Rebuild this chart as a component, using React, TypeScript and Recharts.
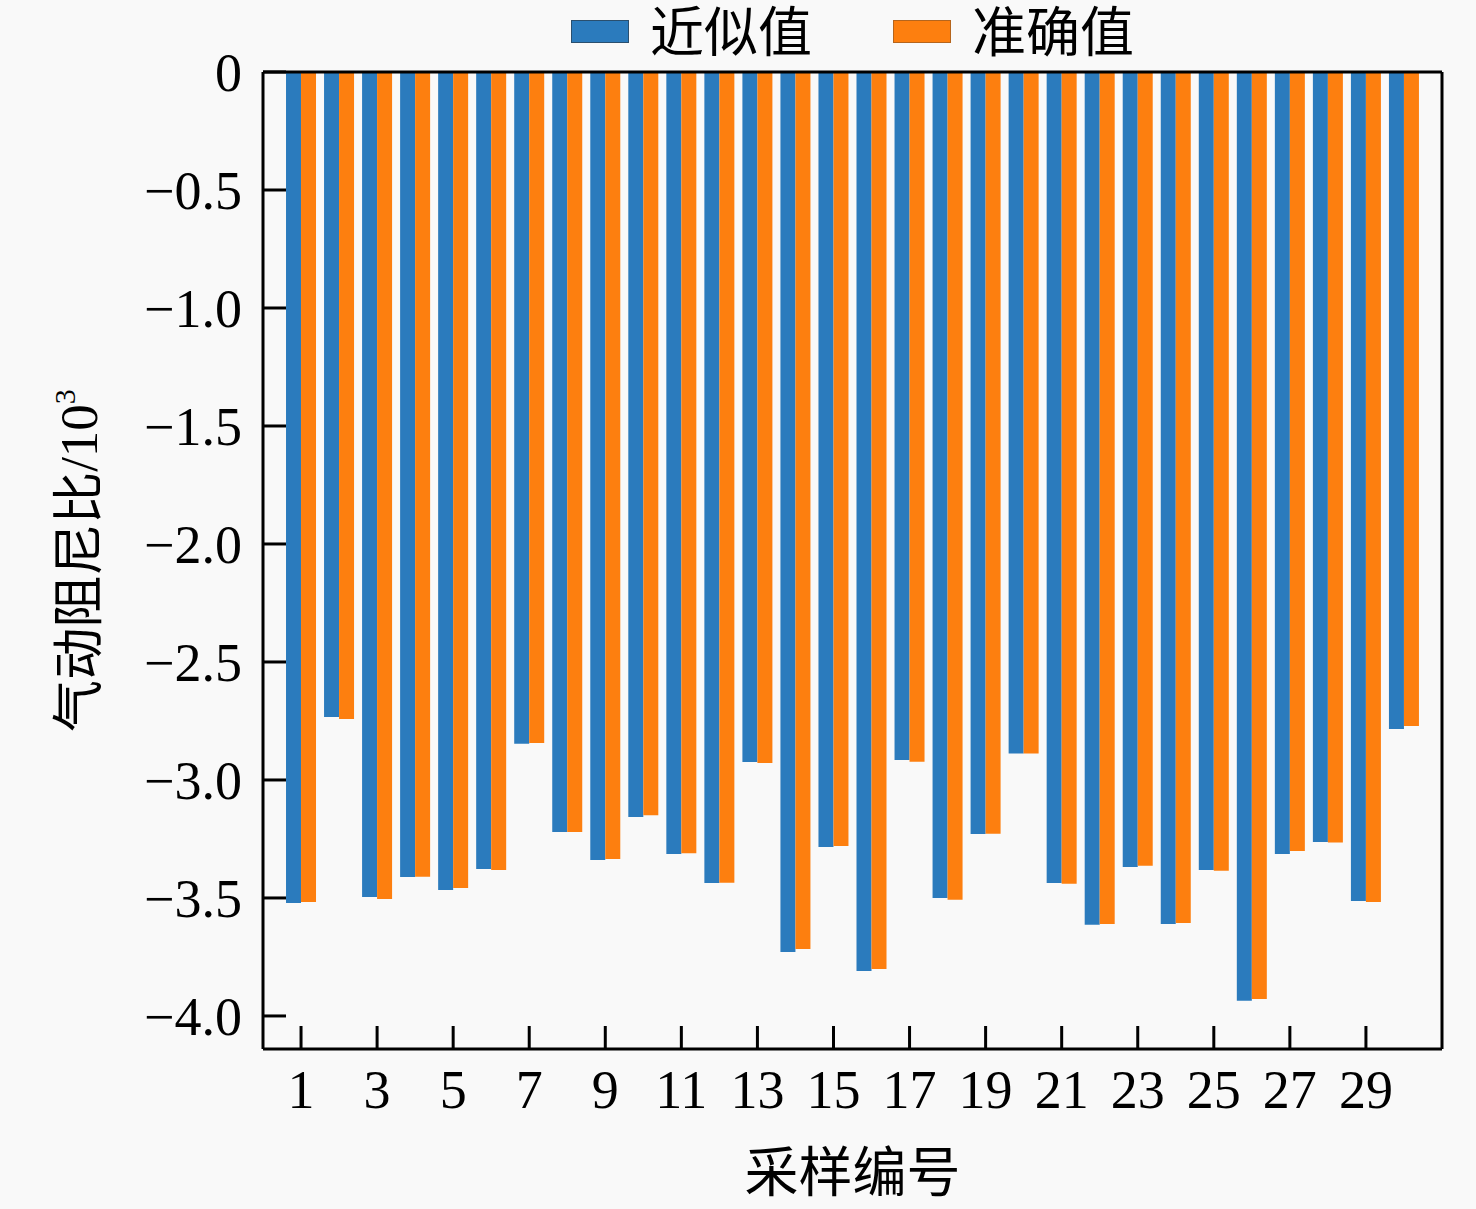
import React from 'react';
import { BarChart, Bar, XAxis, YAxis, Legend, ReferenceLine } from 'recharts';

const sampleIds = [1, 2, 3, 4, 5, 6, 7, 8, 9, 10, 11, 12, 13, 14, 15, 16, 17, 18, 19, 20, 21, 22, 23, 24, 25, 26, 27, 28, 29, 30];

const approxValues = [
  -3.521, -2.733, -3.496, -3.411, -3.466, -3.377, -2.847, -3.22, -3.339, -3.157,
  -3.314, -3.437, -2.924, -3.729, -3.284, -3.809, -2.915, -3.5, -3.229, -2.888,
  -3.437, -3.614, -3.369, -3.61, -3.381, -3.936, -3.314, -3.263, -3.513, -2.784,
];

const exactValues = [
  -3.517, -2.742, -3.504, -3.41, -3.458, -3.381, -2.843, -3.22, -3.335, -3.15,
  -3.31, -3.435, -2.928, -3.716, -3.28, -3.801, -2.923, -3.508, -3.228, -2.888,
  -3.44, -3.61, -3.364, -3.606, -3.385, -3.928, -3.301, -3.265, -3.517, -2.771,
];

const xTicks = [1, 3, 5, 7, 9, 11, 13, 15, 17, 19, 21, 23, 25, 27, 29];
const yTicks = [0, -0.5, -1.0, -1.5, -2.0, -2.5, -3.0, -3.5, -4.0];
const xDomain = [0, 31];
const yDomain = [-4.14, 0];

const seriesNames = ['近似值', '准确值'];
const seriesColors = ['#2b7bbd', '#fd7f0f'];
const swatchEdges = ['#2a4f6e', '#b5651d'];

const xTitle = '采样编号';
const yTitleMain = '气动阻尼比';
const yTitleUnit = '/10';
const yTitleSup = '3';

const data = sampleIds.map((id, i) => ({ id, approx: approxValues[i], exact: exactValues[i] }));

const NUM_FONT = '"Liberation Serif", "Times New Roman", serif';
const CJK_FONT = '"Noto Sans CJK SC", "Noto Sans CJK JP", sans-serif';

const XTick = (props: any) => {
  const { x, y, payload } = props;
  return (
    <g>
      <line x1={x} x2={x} y1={y} y2={y - 23} stroke="#000" strokeWidth={3} />
      <text x={x} y={y + 59} textAnchor="middle" fontFamily={NUM_FONT} fontSize={54} fill="#000">
        {payload.value}
      </text>
    </g>
  );
};

const YTick = (props: any) => {
  const { x, y, payload } = props;
  const v = payload.value as number;
  const label = v === 0 ? '0' : '\u2212' + Math.abs(v).toFixed(1);
  return (
    <g>
      <line x1={x} x2={x + 23} y1={y} y2={y} stroke="#000" strokeWidth={3} />
      <text x={x - 21} y={y + 19} textAnchor="end" fontFamily={NUM_FONT} fontSize={54} fill="#000">
        {label}
      </text>
    </g>
  );
};

const XTitle = (props: any) => {
  const vb = props.viewBox || {};
  const cx = vb.x + vb.width / 2;
  return (
    <text x={cx} y={vb.y + 143} textAnchor="middle" fontFamily={CJK_FONT} fontSize={54} fill="#000">
      {xTitle}
    </text>
  );
};

const YTitle = (props: any) => {
  const vb = props.viewBox || {};
  const cy = vb.y + vb.height / 2;
  return (
    <g transform={`translate(97, ${cy}) rotate(-90)`}>
      <text x={0} y={0} textAnchor="middle" fill="#000">
        <tspan fontFamily={CJK_FONT} fontSize={52}>{yTitleMain}</tspan>
        <tspan fontFamily={NUM_FONT} fontSize={53}>{yTitleUnit}</tspan>
        <tspan fontFamily={NUM_FONT} fontSize={30} dy={-22}>{yTitleSup}</tspan>
      </text>
    </g>
  );
};

const LegendContent = () => {
  return (
    <div style={{ display: 'flex', justifyContent: 'center', alignItems: 'flex-start', width: 1179, height: 62 }}>
      {seriesNames.map((name, i) => (
        <div key={name} style={{ display: 'flex', alignItems: 'flex-start', marginLeft: i ? 81 : 0 }}>
          <span
            style={{
              display: 'inline-block',
              boxSizing: 'border-box',
              width: 58,
              height: 23,
              marginTop: 20,
              marginRight: 21,
              background: seriesColors[i],
              border: `1.5px solid ${swatchEdges[i]}`,
            }}
          />
          <span style={{ display: 'inline-block', height: 58, fontFamily: CJK_FONT, fontSize: 54, lineHeight: '58px', color: '#000', whiteSpace: 'nowrap' }}>{name}</span>
        </div>
      ))}
    </div>
  );
};

export default function App() {
  const axisLine = { stroke: '#000', strokeWidth: 3 };
  return (
    <div style={{ position: 'absolute', left: 0, top: 0, width: 1476, height: 1209, background: '#f9f9f9' }}>
      <BarChart
        width={1476}
        height={1209}
        data={data}
        margin={{ top: 72, right: 34, bottom: 0, left: 0 }}
        barGap={0}
      >
        <XAxis
          dataKey="id"
          type="number"
          domain={xDomain}
          ticks={xTicks}
          interval={0}
          height={160}
          tickSize={0}
          tickMargin={0}
          tickLine={false}
          axisLine={axisLine}
          tick={(p: any) => <XTick {...p} />}
          allowDataOverflow
          label={(p: any) => <XTitle {...p} />}
        />
        <YAxis
          type="number"
          domain={yDomain}
          ticks={yTicks}
          interval={0}
          width={263}
          tickSize={0}
          tickMargin={0}
          tickLine={false}
          axisLine={axisLine}
          tick={(p: any) => <YTick {...p} />}
          allowDataOverflow
          label={(p: any) => <YTitle {...p} />}
        />
        <Legend
          layout="horizontal"
          verticalAlign="middle"
          align="center"
          wrapperStyle={{ position: 'absolute', top: 0, left: 263, width: 1179, height: 62 }}
          content={() => <LegendContent />}
        />
        <Bar dataKey="approx" name={seriesNames[0]} fill={seriesColors[0]} barSize={15} isAnimationActive={false} />
        <Bar dataKey="exact" name={seriesNames[1]} fill={seriesColors[1]} barSize={15} isAnimationActive={false} />
        <ReferenceLine y={yDomain[1]} stroke="#000" strokeWidth={3} ifOverflow="visible" />
        <ReferenceLine x={xDomain[1]} stroke="#000" strokeWidth={3} ifOverflow="visible" />
      </BarChart>
    </div>
  );
}
